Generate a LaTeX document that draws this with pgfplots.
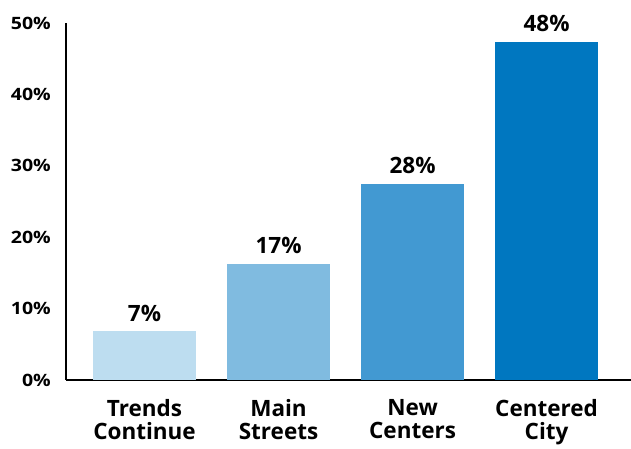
\documentclass[border=0pt]{standalone}
\usepackage{fontspec}
\setmainfont{Open Sans}
\usepackage{pgfplots}
\pgfplotsset{compat=1.18}
\definecolor{c1}{RGB}{189,221,240}
\definecolor{c2}{RGB}{128,187,224}
\definecolor{c3}{RGB}{66,153,210}
\definecolor{c4}{RGB}{0,119,192}
\newcommand{\yl}[1]{\scalebox{1.15}[1]{#1}}
\begin{document}
\begin{tikzpicture}
\useasboundingbox (-66pt,-69pt) rectangle (565pt,380pt);
\begin{axis}[
  at={(0pt,0pt)}, anchor=south west,
  scale only axis, width=565pt, height=357pt,
  xmin=-0.586, xmax=3.63, ymin=0, ymax=50,
  clip=false,
  axis lines=left,
  axis line style={-, line width=2.4pt, black},
  major tick length=0pt,
  ytick={0,10,20,30,40,50},
  yticklabels={\yl{0\%},\yl{10\%},\yl{20\%},\yl{30\%},\yl{40\%},\yl{50\%}},
  yticklabel style={font=\fontsize{17}{20}\selectfont\bfseries, inner sep=0pt, anchor=east},
  yticklabel shift=15pt,
  xtick={0,1,2,3},
  xticklabels={Trends\\Continue, Main\\Streets, New\\Centers, Centered\\City},
  xticklabel style={font=\fontsize{22.5}{23.5}\selectfont\bfseries, align=center, inner sep=0pt, anchor=north},
  xticklabel shift=19pt,
  nodes near coords,
  point meta=explicit symbolic,
  nodes near coords style={font=\fontsize{22.5}{23.5}\selectfont\bfseries, inner sep=0pt, anchor=south, yshift=10pt},
]
\addplot[ybar, bar width=103pt, bar shift=0pt, fill=c1, draw=none] coordinates {(0,6.8) [7\%]};
\addplot[ybar, bar width=103pt, bar shift=0pt, fill=c2, draw=none] coordinates {(1,16.3) [17\%]};
\addplot[ybar, bar width=103pt, bar shift=0pt, fill=c3, draw=none] coordinates {(2,27.5) [28\%]};
\addplot[ybar, bar width=103pt, bar shift=0pt, fill=c4, draw=none] coordinates {(3,47.4) [48\%]};
\end{axis}
\end{tikzpicture}
\end{document}
